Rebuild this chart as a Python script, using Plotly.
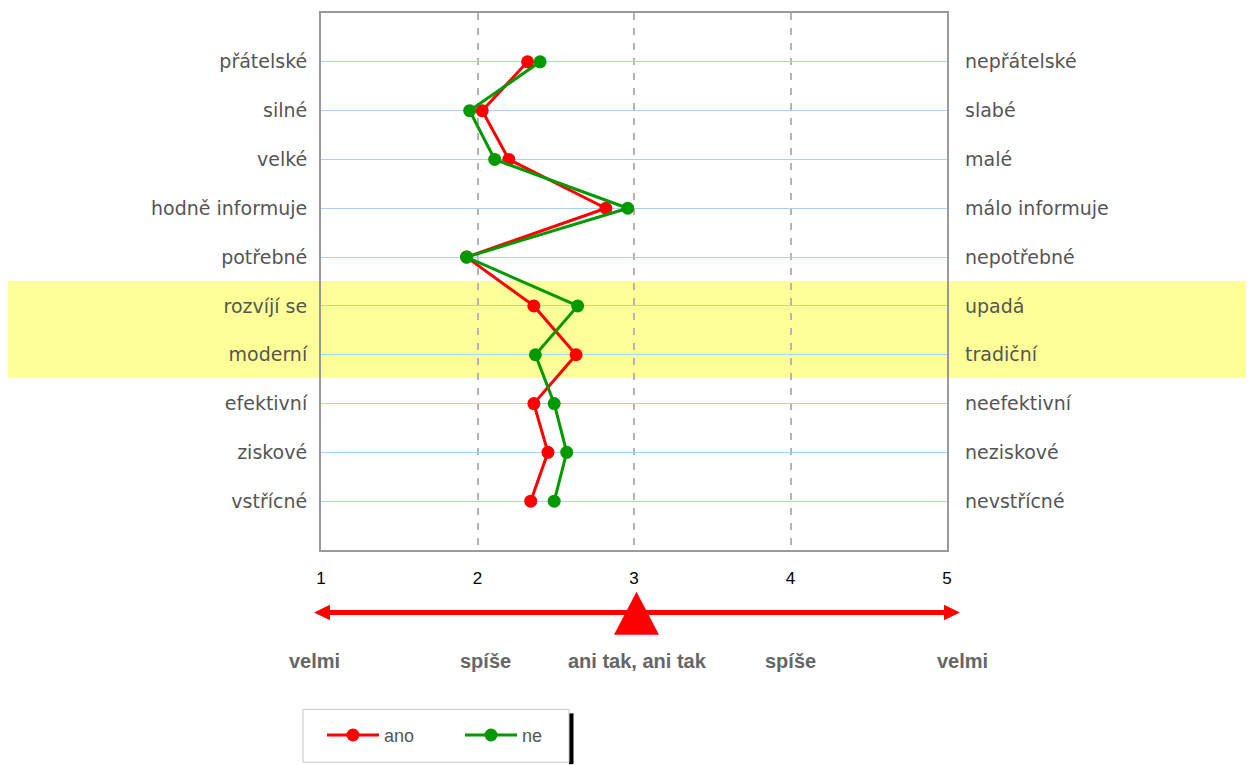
import plotly.graph_objects as go

left_labels = ["přátelské", "silné", "velké", "hodně informuje", "potřebné",
               "rozvíjí se", "moderní", "efektivní", "ziskové", "vstřícné"]
right_labels = ["nepřátelské", "slabé", "malé", "málo informuje", "nepotřebné",
                "upadá", "tradiční", "neefektivní", "neziskové", "nevstřícné"]
ano = [2.32, 2.03, 2.20, 2.82, 1.93, 2.36, 2.63, 2.36, 2.45, 2.34]
ne = [2.40, 1.95, 2.11, 2.96, 1.93, 2.64, 2.37, 2.49, 2.57, 2.49]
scale_ticks = [1, 2, 3, 4, 5]
scale_words = ["velmi", "spíše", "ani tak, ani tak", "spíše", "velmi"]
scale_word_pos = [0.96, 2.05, 3.02, 4.0, 5.1]
highlight_rows = [6, 7]

rows = list(range(1, len(left_labels) + 1))

# page offset (body margin) of the rendered figure
OFF = 8
W, H = 1254 - OFF, 765 - OFF
# plot area in window pixels
PL, PR, PT, PB = 321, 947, 11, 550
ML, MT = PL - OFF, PT - OFF
MR, MB = W - (PR - OFF), H - (PB - OFF)
PH = PB - PT
PW = PR - PL


def py(px):
    return (PB - px) / PH


def pxx(px):
    return (px - PL) / PW


def xv(v):
    return (v - scale_ticks[0]) / (scale_ticks[-1] - scale_ticks[0])


RED = "#ff0000"
GREEN = "#009a00"

fig = go.Figure()
fig.add_trace(go.Scatter(x=ano, y=rows, name="ano", mode="lines+markers",
                         line=dict(color=RED, width=3), marker=dict(size=13, color=RED)))
fig.add_trace(go.Scatter(x=ne, y=rows, name="ne", mode="lines+markers",
                         line=dict(color=GREEN, width=3), marker=dict(size=13, color=GREEN)))
fig.add_trace(go.Scatter(x=[None], y=[None], yaxis="y2", showlegend=False, hoverinfo="skip"))

shapes = []
# highlight band
shapes.append(dict(type="rect", xref="paper", yref="y", x0=pxx(OFF), x1=pxx(1260),
                   y0=highlight_rows[0] - 0.51, y1=highlight_rows[-1] + 0.47,
                   fillcolor="#ffff99", line=dict(width=0), layer="below"))
# arrow scale
ay = py(612.7)
hh = 7.7 / PH
u = 1 / PW
shapes.append(dict(type="line", xref="paper", yref="paper", x0=xv(scale_ticks[0]), x1=xv(scale_ticks[-1]),
                   y0=ay, y1=ay, line=dict(color=RED, width=5)))
lt = xv(scale_ticks[0]) - 7 * u
rt = xv(scale_ticks[-1]) + 13 * u
shapes.append(dict(type="path", xref="paper", yref="paper",
                   path=f"M{lt},{ay} L{lt+16*u},{ay+hh} L{lt+16*u},{ay-hh} Z",
                   fillcolor=RED, line=dict(width=0)))
shapes.append(dict(type="path", xref="paper", yref="paper",
                   path=f"M{rt},{ay} L{rt-16*u},{ay+hh} L{rt-16*u},{ay-hh} Z",
                   fillcolor=RED, line=dict(width=0)))
mid = xv(scale_ticks[2]) + 2.5 * u
shapes.append(dict(type="path", xref="paper", yref="paper",
                   path=f"M{mid},{py(592)} L{mid+22.5*u},{py(635)} L{mid-22.5*u},{py(635)} Z",
                   fillcolor=RED, line=dict(width=0)))
# legend box with shadow
shapes.append(dict(type="rect", xref="paper", yref="paper", x0=pxx(569), x1=pxx(573.5),
                   y0=py(765), y1=py(714), fillcolor="black", line=dict(width=0)))
shapes.append(dict(type="rect", xref="paper", yref="paper", x0=pxx(303), x1=pxx(569),
                   y0=py(763), y1=py(710), fillcolor="white", line=dict(color="#c8c8c8", width=1)))

annotations = []
for w, p in zip(scale_words, scale_word_pos):
    annotations.append(dict(x=xv(p), y=py(661), xref="paper", yref="paper", text=f"<b>{w}</b>",
                            showarrow=False, xanchor="center", yanchor="middle",
                            font=dict(family="Liberation Sans, Arial", size=20, color="#666666")))

label_font = dict(family="DejaVu Sans, Verdana", size=19, color="#555555")

fig.update_layout(
    width=W, height=H,
    margin=dict(l=ML, r=MR, t=MT, b=MB, pad=0),
    plot_bgcolor="rgba(0,0,0,0)", paper_bgcolor="white",
    showlegend=True,
    legend=dict(orientation="h", x=pxx(322), y=py(736), xanchor="left", yanchor="middle",
                bgcolor="rgba(0,0,0,0)", borderwidth=0, entrywidth=71, itemwidth=52,
                font=dict(family="Liberation Sans, Arial", size=18, color="#555555")),
    xaxis=dict(range=[scale_ticks[0], scale_ticks[-1]], tickvals=scale_ticks,
               ticktext=[str(t) for t in scale_ticks],
               showgrid=True, gridcolor="#b4b4b4", griddash="7px,8px", gridwidth=1.5,
               showline=True, linecolor="#999999", linewidth=2, mirror=True,
               zeroline=False, ticks="", ticklabelstandoff=12,
               tickfont=dict(family="Liberation Sans, Arial", size=17, color="black")),
    yaxis=dict(range=[11, 0], tickvals=rows, ticktext=left_labels,
               showgrid=True, gridcolor="#a8d2fb", gridwidth=1,
               showline=True, linecolor="#999999", linewidth=2, mirror=True,
               zeroline=False, ticks="", ticklabelstandoff=8, tickfont=label_font),
    yaxis2=dict(range=[11, 0], tickvals=rows, ticktext=right_labels, overlaying="y",
                side="right", showgrid=False, zeroline=False, showline=False, ticks="",
                ticklabelstandoff=17, tickfont=label_font),
    shapes=shapes, annotations=annotations,
)

fig.write_html("out.html")
